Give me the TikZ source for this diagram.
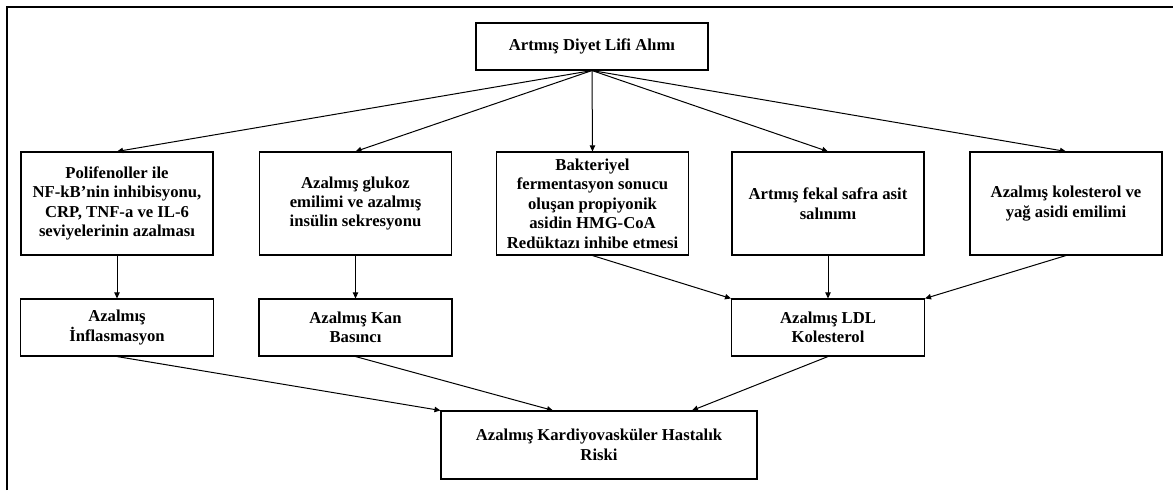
\documentclass[tikz,border=0pt]{standalone}
\usepackage{fontspec}
\setmainfont{Liberation Serif}
\usetikzlibrary{arrows.meta, positioning, calc}
\tikzset{
  every picture/.style={font=\bfseries\fontsize{12.5}{14.6}\selectfont, line width=0.8pt},
  box/.style={draw=black, fill=white, align=center, inner sep=1pt},
  topbox/.style={box, minimum width=174pt, minimum height=35.25pt},
  upbox/.style={box, minimum width=144pt, minimum height=77.25pt},
  lowbox/.style={box, minimum width=144.75pt, minimum height=42.75pt},
  riskbox/.style={box, minimum width=237pt, minimum height=51pt},
  arrow/.style={-{Triangle[length=4.5pt, width=4pt]}, draw=black, line width=0.75pt},
}
\begin{document}
\begin{tikzpicture}[x=0.75pt, y=-0.75pt]
  \useasboundingbox (0,0) rectangle (1173,490);
  % outer frame
  \draw[line width=1.8pt] (7,490) -- (7,7) -- (1173,7);
  % boxes
  \node[topbox] (lif) at (592,46.5) {Artmış Diyet Lifi Alımı};
  \node[upbox] (poli) at (117,203.5) {Polifenoller ile\\NF-kB’nin inhibisyonu,\\CRP, TNF-a ve IL-6\\seviyelerinin azalması};
  \node[upbox] (glukoz) at (355.5,203.5) {Azalmış glukoz\\emilimi ve azalmış\\insülin sekresyonu};
  \node[upbox] (bakteri) at (592.5,203.5) {Bakteriyel\\fermentasyon sonucu\\oluşan propiyonik\\asidin HMG-CoA\\Redüktazı inhibe etmesi};
  \node[upbox] (safra) at (828,203.5) {Artmış fekal safra asit\\salınımı};
  \node[upbox] (kolest) at (1066,203.5) {Azalmış kolesterol ve\\yağ asidi emilimi};
  \node[lowbox] (infl) at (117,327.5) {Azalmış\\İnflasmasyon};
  \node[lowbox] (kan) at (355.5,327.5) {Azalmış Kan\\Basıncı};
  \node[lowbox] (ldl) at (828,327.5) {Azalmış LDL\\Kolesterol};
  \node[riskbox] (risk) at (599,445) {Azalmış Kardiyovasküler Hastalık\\Riski};
  % arrows
  \foreach \t in {poli, glukoz, bakteri, safra, kolest}
    \draw[arrow] (lif.south) -- (\t.north);
  \draw[arrow] (poli.south) -- (infl.north);
  \draw[arrow] (glukoz.south) -- (kan.north);
  \draw[arrow] (bakteri.south) -- (ldl.north west);
  \draw[arrow] (safra.south) -- (ldl.north);
  \draw[arrow] (kolest.south) -- (ldl.north east);
  \draw[arrow] (infl.south) -- (risk.north west);
  \draw[arrow] (kan.south) -- ([xshift=-34.5pt]risk.north);
  \draw[arrow] (ldl.south) -- ([xshift=69.75pt]risk.north);
\end{tikzpicture}
\end{document}
